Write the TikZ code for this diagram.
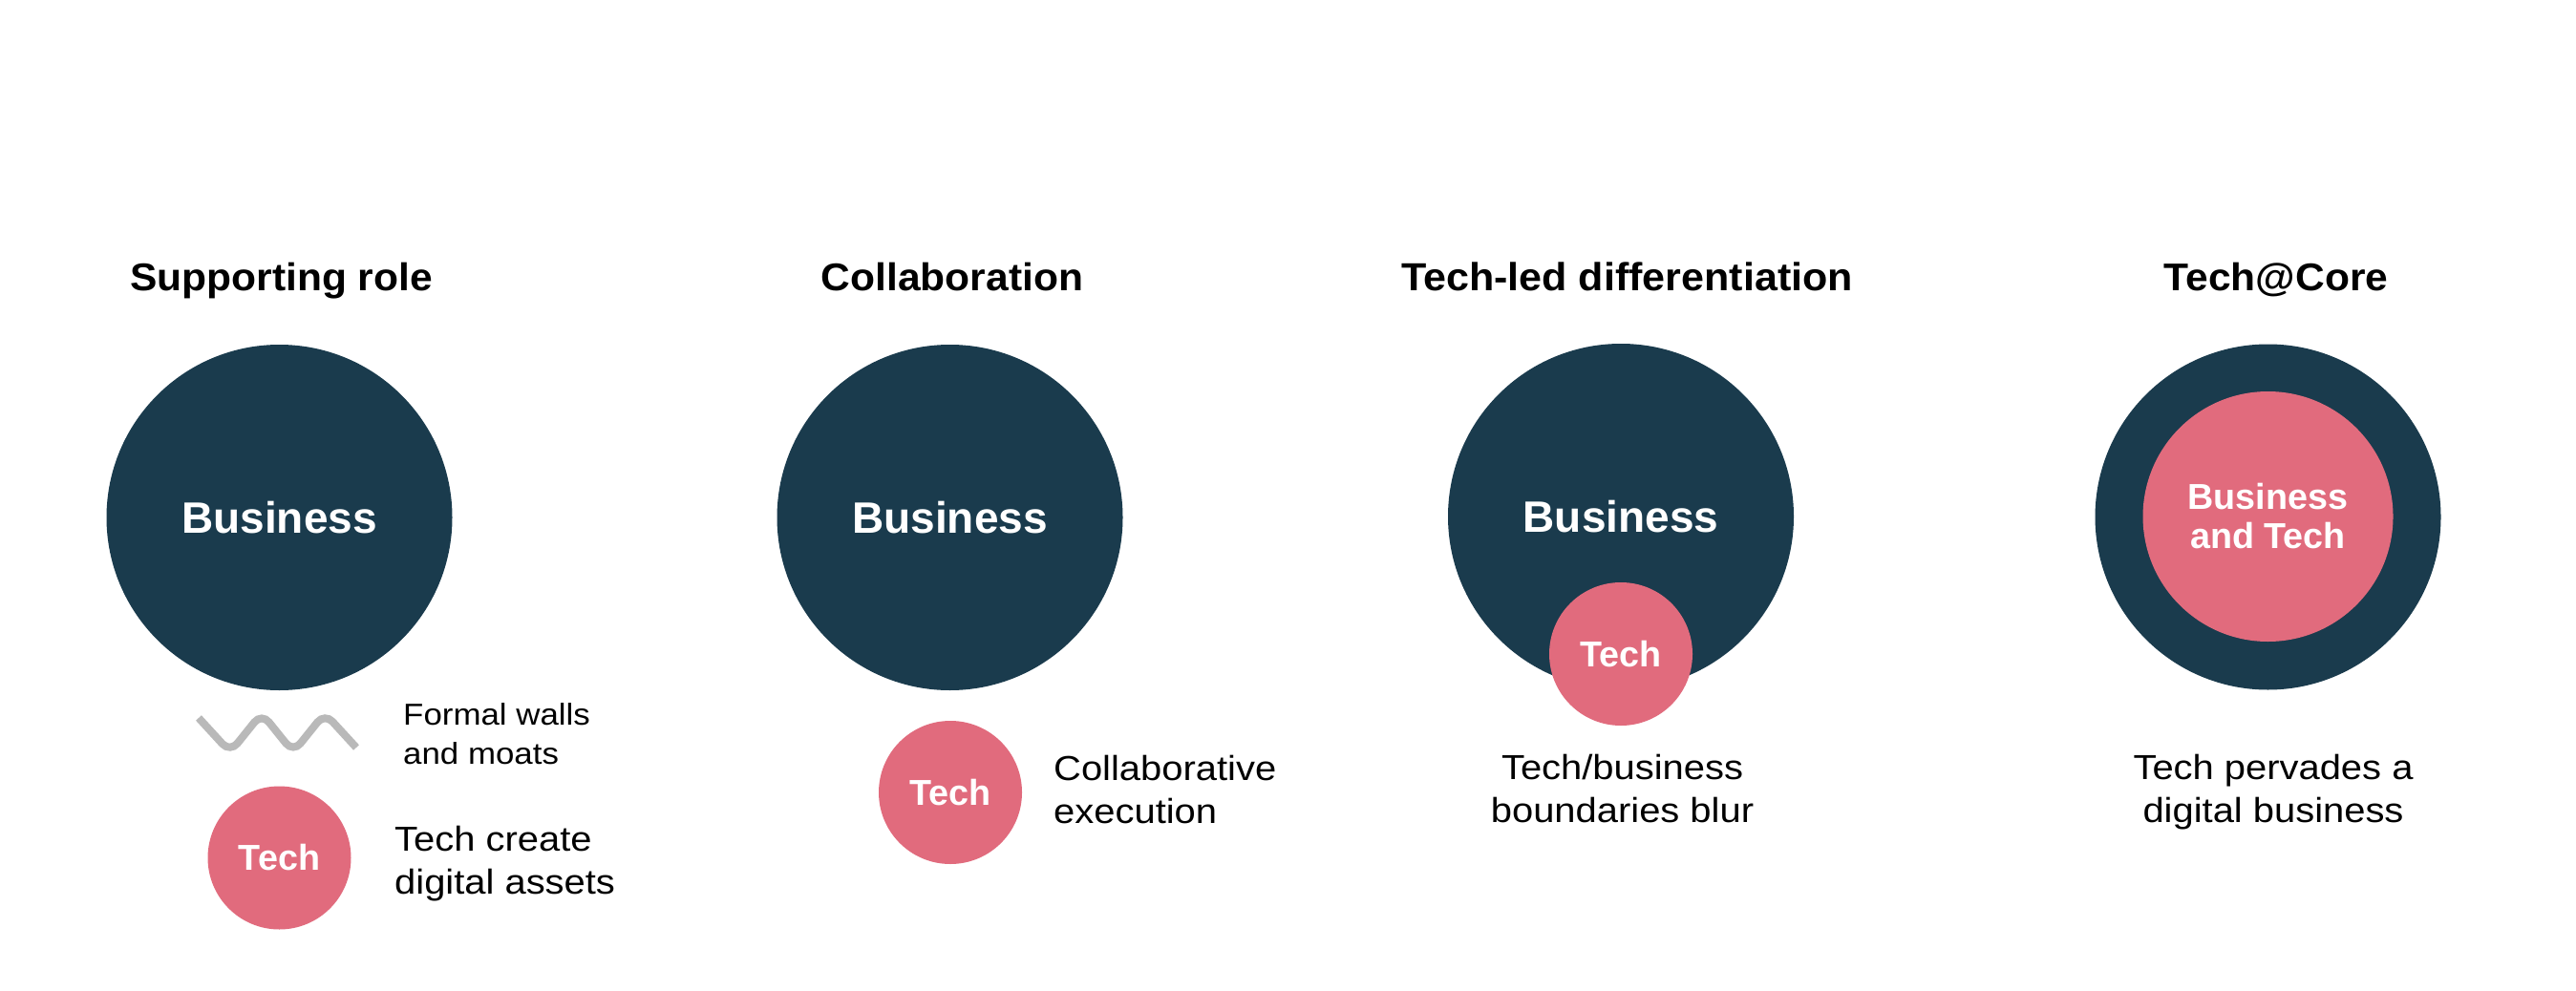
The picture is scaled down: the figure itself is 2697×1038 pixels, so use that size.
\documentclass[tikz,border=0pt]{standalone}
\usepackage{fontspec}
\setmainfont{Liberation Sans}
\newfontfamily\bodyfont[FakeStretch=1.1]{Liberation Sans}
\newfontfamily\headfont[FakeStretch=1.05]{Liberation Sans}
\newfontfamily\circfont{Liberation Sans}
\definecolor{navy}{HTML}{1A3B4D}
\definecolor{rose}{HTML}{E16B7D}
\definecolor{wavegray}{HTML}{B9B9B9}
\tikzset{
  headtxt/.style={inner sep=0pt, anchor=base, font=\headfont\bfseries\fontsize{40.5}{48}\selectfont},
  bodytxt/.style={inner sep=0pt, anchor=base west, align=left, font=\bodyfont\fontsize{36.3}{45}\selectfont},
  bodyctr/.style={inner sep=0pt, anchor=base, align=center, font=\bodyfont\fontsize{36.3}{45}\selectfont},
  smalltxt/.style={inner sep=0pt, anchor=base west, align=left, font=\bodyfont\fontsize{31.7}{41}\selectfont},
  bizcirc/.style={circle, fill=navy, inner sep=0pt, minimum size=362pt, text=white, font=\circfont\bfseries\fontsize{46}{50}\selectfont},
  techcirc/.style={circle, fill=rose, inner sep=0pt, minimum size=150pt, text=white, font=\circfont\bfseries\fontsize{37.7}{41}\selectfont},
  corecirc/.style={circle, fill=rose, inner sep=0pt, minimum size=262pt, text=white, align=center, font=\circfont\bfseries\fontsize{37.7}{41}\selectfont},
}
\begin{document}
\begin{tikzpicture}[x=1pt, y=-1pt]
\useasboundingbox[fill=white] (0,0) rectangle (2697,1038);

% Column 1
\node[headtxt] (h1) at (294.5,304) {Supporting role};
\node[bizcirc] (b1) at (292.5,542) {Business};
\draw[wavegray, line width=8pt, rounded corners=12pt]
  (208,752) -- (241,788) -- (274,747) -- (307,788) -- (340,747) -- (373,783);
\node[smalltxt] (w1) at (422,800) {Formal walls\\and moats};
\node[techcirc] (t1) at (292.5,898.5) {Tech};
\node[bodytxt] (d1) at (413,936) {Tech create\\digital assets};

% Column 2
\node[headtxt] (h2) at (997,304) {Collaboration};
\node[bizcirc] (b2) at (994.5,542) {Business};
\node[techcirc] (t2) at (995,830) {Tech};
\node[bodytxt] (d2) at (1103,862) {Collaborative\\execution};

% Column 3
\node[headtxt, font=\headfont\bfseries\fontsize{41}{48}\selectfont] (h3) at (1703.5,304) {Tech-led differentiation};
\node[bizcirc] (b3) at (1697,541) {Business};
\node[techcirc] (t3) at (1697,685) {Tech};
\node[bodyctr] (d3) at (1698.5,861) {Tech/business\\boundaries blur};

% Column 4
\node[headtxt] (h4) at (2383,304) {Tech@Core};
\node[bizcirc] (b4) at (2374.5,541.5) {};
\node[corecirc] (c4) at (2374.5,541) {Business\\and Tech};
\node[bodyctr] (d4) at (2380,861) {Tech pervades a\\digital business};
\end{tikzpicture}
\end{document}
